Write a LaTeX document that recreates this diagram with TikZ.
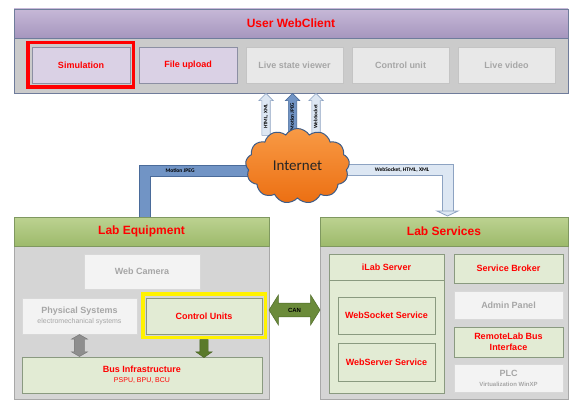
\documentclass[tikz,border=0pt]{standalone}
\usepackage{fontspec}
\setmainfont{Liberation Sans}
\newfontfamily\calib{Carlito}
\usetikzlibrary{shapes.symbols,shapes.arrows,shadows,calc}
\newcommand\fsz[2]{\fontsize{#1}{#2}\selectfont}
\definecolor{wctop}{HTML}{C6B8D7}
\definecolor{wcbot}{HTML}{A696BE}
\definecolor{wcbd}{HTML}{6F7C9B}
\definecolor{panelg}{HTML}{CBCBCB}
\definecolor{btnAf}{HTML}{DAD1E5}
\definecolor{btnAb}{HTML}{8C8FA3}
\definecolor{btnGf}{HTML}{E8E8E8}
\definecolor{btnGb}{HTML}{C4C4C4}
\definecolor{txtgray}{HTML}{A6A6A6}
\definecolor{gtt}{HTML}{BCD291}
\definecolor{gtbot}{HTML}{9DBA6B}
\definecolor{gtbd}{HTML}{7F9860}
\definecolor{labg}{HTML}{D5D5D5}
\definecolor{labbd}{HTML}{A8A8A8}
\definecolor{gbf}{HTML}{E2EBD4}
\definecolor{gbb}{HTML}{8A9A80}
\definecolor{wbf}{HTML}{F3F3F3}
\definecolor{wbb}{HTML}{D8D8D8}
\definecolor{pipeLf}{HTML}{7194C5}
\definecolor{pipeLb}{HTML}{4A6B9A}
\definecolor{pipeRf}{HTML}{DDE7F3}
\definecolor{pipeRb}{HTML}{8DA3C2}
\definecolor{cloudt}{HTML}{F89A45}
\definecolor{cloudb}{HTML}{EC6F12}
\definecolor{cloudbd}{HTML}{3E5C87}
\definecolor{olive}{HTML}{6B8B3A}
\definecolor{olivebd}{HTML}{4E6A28}
\definecolor{darkgreen}{HTML}{5A7A2A}
\definecolor{arrgray}{HTML}{8E8E8E}
\begin{document}
\begin{tikzpicture}[x=1pt,y=-1pt,
  shadowed/.style={drop shadow={shadow xshift=1pt,shadow yshift=-1pt,opacity=0.25,fill=black}},
  btnA/.style={draw=btnAb,fill=btnAf,line width=0.8pt,minimum width=98pt,minimum height=36pt,text=red,font=\bfseries\fsz{9}{11},shadowed},
  btnG/.style={draw=btnGb,fill=btnGf,line width=0.8pt,minimum width=97pt,minimum height=36pt,text=txtgray,font=\bfseries\fsz{9}{11},shadowed},
  gtitle/.style={draw=gtbd,line width=0.6pt,top color=gtt,bottom color=gtbot,text=red,font=\bfseries\fsz{12}{14}},
  gbox/.style={draw=gbb,fill=gbf,line width=0.8pt,text=red,font=\bfseries\fsz{9}{11},align=center,shadowed},
  wbox/.style={draw=wbb,fill=wbf,line width=0.8pt,text=txtgray,font=\bfseries\fsz{9}{11},align=center,shadowed},
  uparr/.style={single arrow,rotate=90,anchor=tip,minimum height=42pt,single arrow head extend=3pt,
     single arrow head indent=0pt,inner xsep=1pt,inner ysep=1.6pt,text height=3.6pt,text depth=1pt,
     line width=0.6pt,font=\bfseries\calib\fsz{5.2}{6}},
  lightarr/.style={uparr,draw=pipeRb,fill=pipeRf},
  darkarr/.style={uparr,draw=pipeLb,fill=pipeLf},
  pipeL/.style={draw=pipeLb,double=pipeLf,double distance=10pt,line width=1pt},
  pipeR/.style={draw=pipeRb,double=pipeRf,double distance=10pt,line width=1pt},
  pipelabel/.style={font=\bfseries\calib\fsz{5.5}{6},text=black,inner sep=0pt}
]
\useasboundingbox (0,0) rectangle (570,401);
\fill[white] (0,0) rectangle (570,401);

% ---------------- User WebClient ----------------
\node[draw=wcbd,line width=0.6pt,fill=panelg,minimum width=554pt,minimum height=55pt] (wcpanel) at (291,65.5) {};
\node[draw=wcbd,line width=0.6pt,top color=wctop,bottom color=wcbot,minimum width=554pt,minimum height=29pt,
      text=red,font=\bfseries\fsz{12}{14}] (wctitle) at (291,23.5) {User WebClient};
\node[btnA] (sim) at (81,65) {Simulation};
\node[btnA] (upl) at (188,65) {File upload};
\node[btnG] (lsv) at (294.5,65) {Live state viewer};
\node[btnG] (cu) at (400.5,65) {Control unit};
\node[btnG] (lv) at (506.5,65) {Live video};
\node[draw=red,line width=3.5pt,minimum width=105.5pt,minimum height=44.5pt] (simhl) at (80.5,65) {};

% ---------------- Pipes ----------------
\node[inner sep=0pt,minimum width=105pt,minimum height=75pt] (cloudpos) at (297.5,165.5) {};
\draw[pipeL] ([yshift=-5pt]cloudpos.center) -| (145,217);
\draw[pipeR] ([yshift=-4.5pt]cloudpos.center) -| (447.5,211);
\coordinate (headR) at (447.5,211);
\draw[draw=pipeRb,fill=pipeRf,line width=0.8pt] ([xshift=-10.5pt]headR) -- ([xshift=10.5pt]headR) -- ([yshift=-5pt]headR) -- cycle;
\node[pipelabel] (lblL) at (180,170.5) {Motion JPEG};
\node[pipelabel] (lblR) at (402,170) {WebSocket, HTML, XML};

% ---------------- Vertical arrows ----------------
\node[lightarr] (a1) at (266,93) {HTML, XML};
\node[darkarr] (a2) at (292.5,93) {Motion JPEG};
\node[lightarr] (a3) at (316,93) {WebSocket};

% ---------------- Cloud ----------------
\node[cloud,cloud puffs=13,cloud puff arc=115,aspect=1.4,minimum width=104pt,minimum height=75pt,inner sep=0pt,
      draw=cloudbd,line width=1pt,top color=cloudt,bottom color=cloudb,
      font=\calib\fsz{15}{17},text=black!85] (cloud) at (297.5,166) {Internet};

% ---------------- Lab Equipment ----------------
\node[draw=labbd,line width=0.6pt,fill=labg,minimum width=255pt,minimum height=153pt] (eqpanel) at (141.5,322.5) {};
\node[gtitle,minimum width=255pt,minimum height=29pt] (eqtitle) at (141.5,231.5) {Lab Equipment};
\node[wbox,minimum width=116pt,minimum height=35pt] (cam) at (142,271.5) {Web Camera};
\node[wbox,minimum width=115pt,minimum height=36pt] (phys) at (79.5,316)
   {Physical Systems\\[-1pt]{\mdseries\fsz{7}{8}electromechanical systems}};
\node[gbox,minimum width=116pt,minimum height=36pt] (ctrl) at (204,316) {Control Units};
\node[draw=yellow,line width=3.5pt,minimum width=122.5pt,minimum height=43.5pt] (ctrlhl) at (204,315.5) {};
\node[gbox,minimum width=240pt,minimum height=36pt] (bus) at (142,375)
   {Bus Infrastructure\\[-1pt]{\mdseries\fsz{7}{8}PSPU, BPU, BCU}};
\node[double arrow,rotate=90,minimum height=22pt,inner xsep=0pt,inner ysep=5pt,double arrow head extend=3pt,
      double arrow tip angle=120,fill=arrgray,draw=arrgray!80!black,line width=0.4pt] (gdarr)
      at ($(phys.south)!0.5!(phys.south |- bus.north)$) {};
\node[single arrow,rotate=-90,anchor=tail,minimum height=18pt,inner xsep=0pt,inner ysep=4pt,single arrow head extend=4pt,
      single arrow tip angle=110,fill=darkgreen,draw=darkgreen!80!black,line width=0.4pt] (garr)
      at ([yshift=-5pt]ctrl.south) {};

% ---------------- Lab Services ----------------
\node[draw=labbd,line width=0.6pt,fill=labg,minimum width=248pt,minimum height=153pt] (svpanel) at (444,322.5) {};
\node[gtitle,minimum width=248pt,minimum height=29pt] (svtitle) at (444,231.5) {Lab Services};
\node[gbox,minimum width=115pt,minimum height=139pt] (ilab) at (386.5,323.5) {};
\draw[draw=gbb,line width=0.8pt] ($(ilab.north west)+(0,27)$) -- ($(ilab.north east)+(0,27)$);
\node[text=red,font=\bfseries\fsz{9}{11}] (ilabt) at (386.5,267.5) {iLab Server};
\node[gbox,minimum width=97pt,minimum height=37pt] (wss) at (386.5,315.5) {WebSocket Service};
\node[gbox,minimum width=97pt,minimum height=38pt] (wsv) at (386.5,362) {WebServer Service};
\node[gbox,minimum width=109pt,minimum height=29pt] (sb) at (508.5,268.5) {Service Broker};
\node[wbox,minimum width=109pt,minimum height=28pt] (ap) at (508.5,305) {Admin Panel};
\node[gbox,minimum width=109pt,minimum height=30pt] (rbi) at (508.5,342) {RemoteLab Bus\\Interface};
\node[wbox,minimum width=109pt,minimum height=28pt] (plc) at (508.5,378)
   {PLC\\[-1pt]{\fsz{6}{7}Virtualization WinXP}};

% ---------------- CAN ----------------
\node[double arrow,minimum height=51pt,inner xsep=2pt,inner ysep=4.5pt,text height=4.4pt,text depth=0pt,
      double arrow head extend=8pt,double arrow tip angle=116,fill=olive,draw=olivebd,line width=0.5pt,
      font=\bfseries\fsz{6}{7},text=black] (can) at ($(eqpanel.east)!0.5!(svpanel.west)+(0,-12.5)$) {CAN};
\end{tikzpicture}
\end{document}
